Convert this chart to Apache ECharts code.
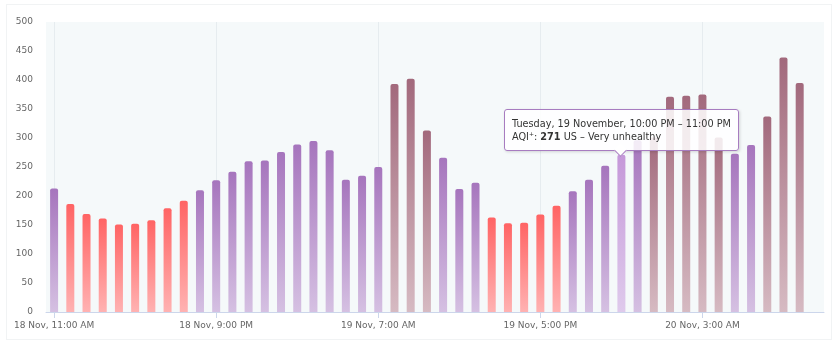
<!DOCTYPE html>
<html>
<head>
<meta charset="utf-8">
<script src="https://cdn.jsdelivr.net/npm/echarts@6/dist/echarts.min.js"></script>
<style>
  html, body { margin: 0; padding: 0; background: #ffffff; }
  #frame { position: absolute; left: 6px; top: 4px; width: 826px; height: 336px; border: 1px solid #f1f3f4; box-sizing: border-box; }
  #chart { position: absolute; left: 0; top: 0; width: 837px; height: 341px; }
  .tip-arrow {
    position: absolute; left: 50%; bottom: -5px; width: 8px; height: 8px;
    margin-left: -5px; background: #ffffff;
    border-right: 1px solid #a77cc0; border-bottom: 1px solid #a77cc0;
    transform: rotate(45deg);
  }
</style>
</head>
<body>
<div id="frame"></div>
<div id="chart"></div>
<script>
// Hourly AQI readings, 18 Nov 11:00 AM onward (last hour not yet reported)
const categories = [
  '18 Nov, 11:00 AM', '18 Nov, 12:00 PM', '18 Nov, 1:00 PM', '18 Nov, 2:00 PM', '18 Nov, 3:00 PM',
  '18 Nov, 4:00 PM', '18 Nov, 5:00 PM', '18 Nov, 6:00 PM', '18 Nov, 7:00 PM', '18 Nov, 8:00 PM',
  '18 Nov, 9:00 PM', '18 Nov, 10:00 PM', '18 Nov, 11:00 PM', '19 Nov, 12:00 AM', '19 Nov, 1:00 AM',
  '19 Nov, 2:00 AM', '19 Nov, 3:00 AM', '19 Nov, 4:00 AM', '19 Nov, 5:00 AM', '19 Nov, 6:00 AM',
  '19 Nov, 7:00 AM', '19 Nov, 8:00 AM', '19 Nov, 9:00 AM', '19 Nov, 10:00 AM', '19 Nov, 11:00 AM',
  '19 Nov, 12:00 PM', '19 Nov, 1:00 PM', '19 Nov, 2:00 PM', '19 Nov, 3:00 PM', '19 Nov, 4:00 PM',
  '19 Nov, 5:00 PM', '19 Nov, 6:00 PM', '19 Nov, 7:00 PM', '19 Nov, 8:00 PM', '19 Nov, 9:00 PM',
  '19 Nov, 10:00 PM', '19 Nov, 11:00 PM', '20 Nov, 12:00 AM', '20 Nov, 1:00 AM', '20 Nov, 2:00 AM',
  '20 Nov, 3:00 AM', '20 Nov, 4:00 AM', '20 Nov, 5:00 AM', '20 Nov, 6:00 AM', '20 Nov, 7:00 AM',
  '20 Nov, 8:00 AM', '20 Nov, 9:00 AM', '20 Nov, 10:00 AM'
];

const aqiValues = [
  213, 186, 169, 161, 151, 152, 158, 179, 192, 210,
  227, 242, 260, 261, 276, 289, 295, 279, 228, 235,
  250, 393, 402, 313, 266, 212, 223, 163, 153, 154,
  168, 183, 208, 228, 252, 271, 296, 301, 371, 373,
  375, 301, 273, 288, 337, 439, 395, null
];

// Full-hour descriptions used in the hover box
const tooltipTitles = {
  35: 'Tuesday, 19 November, 10:00 PM – 11:00 PM'
};

const yTicks = [0, 50, 100, 150, 200, 250, 300, 350, 400, 450, 500];

const hoverIndex = 35;

// AQI bands: upper bound, label, gradient top / bottom
const bands = [
  { max: 150, name: 'Unhealthy for sensitive groups', top: '#ff9b57', bottom: '#ffcaa6' },
  { max: 200, name: 'Unhealthy', top: '#ff6464', bottom: '#ffb2b2' },
  { max: 300, name: 'Very unhealthy', top: '#a675bd', bottom: '#d5c0e2' },
  { max: Infinity, name: 'Hazardous', top: '#a2697c', bottom: '#d6bac2' }
];

function bandOf(v) {
  return bands.find(b => v <= b.max);
}

function grad(top, bottom) {
  return new echarts.graphic.LinearGradient(0, 0, 0, 1, [
    { offset: 0, color: top },
    { offset: 1, color: bottom }
  ]);
}

const hoverColor = () => grad('#c598d9', '#dfcaec');

const seriesData = aqiValues.map((v, i) => {
  if (v == null) return { value: null };
  const b = bandOf(v);
  return {
    value: v,
    itemStyle: { color: i === hoverIndex ? hoverColor() : grad(b.top, b.bottom) },
    emphasis: { itemStyle: { color: hoverColor() } }
  };
});

const FONT = 'DejaVu Sans';

const chart = echarts.init(document.getElementById('chart'), null, { renderer: 'canvas' });

chart.setOption({
  animation: false,
  backgroundColor: 'transparent',
  grid: {
    left: 46, right: 13, top: 22, bottom: 29,
    show: true, backgroundColor: '#f5f9fa', borderWidth: 0
  },
  tooltip: {
    trigger: 'item',
    triggerOn: 'none',
    alwaysShowContent: true,
    transitionDuration: 0,
    backgroundColor: 'rgba(255,255,255,0.86)',
    borderColor: '#a77cc0',
    borderWidth: 1,
    borderRadius: 3,
    padding: [7, 7, 7, 7],
    extraCssText: 'box-shadow: 1px 1px 3px rgba(0,0,0,0.15); line-height: 13px; overflow: visible;',
    textStyle: { fontFamily: FONT, fontSize: 9.7, color: '#333333' },
    position: function (point, params, dom, rect, size) {
      const w = size.contentSize[0], h = size.contentSize[1];
      return [rect.x + rect.width / 2 - w / 2, rect.y - h - 4];
    },
    formatter: function (p) {
      const v = aqiValues[p.dataIndex];
      const title = tooltipTitles[p.dataIndex] || categories[p.dataIndex];
      return title + '<br/>AQI<sup style="font-size:6px;line-height:0">+</sup>: <b>' + v + '</b> US – ' +
        bandOf(v).name + '<div class="tip-arrow"></div>';
    }
  },
  xAxis: {
    type: 'category',
    data: categories,
    boundaryGap: true,
    axisLine: { lineStyle: { color: '#ccd6eb', width: 1 } },
    axisTick: { show: true, interval: 9, alignWithLabel: true, length: 6, lineStyle: { color: '#ccd6eb' } },
    splitLine: { show: true, interval: 9, alignWithLabel: true, lineStyle: { color: '#e6ecef', width: 1 } },
    axisLabel: { interval: 9, color: '#666666', fontFamily: FONT, fontSize: 9, margin: 9 }
  },
  yAxis: {
    type: 'value',
    min: yTicks[0],
    max: yTicks[yTicks.length - 1],
    interval: yTicks[1] - yTicks[0],
    axisLine: { show: false },
    axisTick: { show: false },
    splitLine: { show: false },
    axisLabel: { color: '#666666', fontFamily: FONT, fontSize: 9, margin: 13 }
  },
  series: [{
    type: 'bar',
    data: seriesData,
    barWidth: 8,
    itemStyle: { borderRadius: [2, 2, 0, 0] }
  }]
});

chart.dispatchAction({ type: 'showTip', seriesIndex: 0, dataIndex: hoverIndex });
</script>
</body>
</html>
